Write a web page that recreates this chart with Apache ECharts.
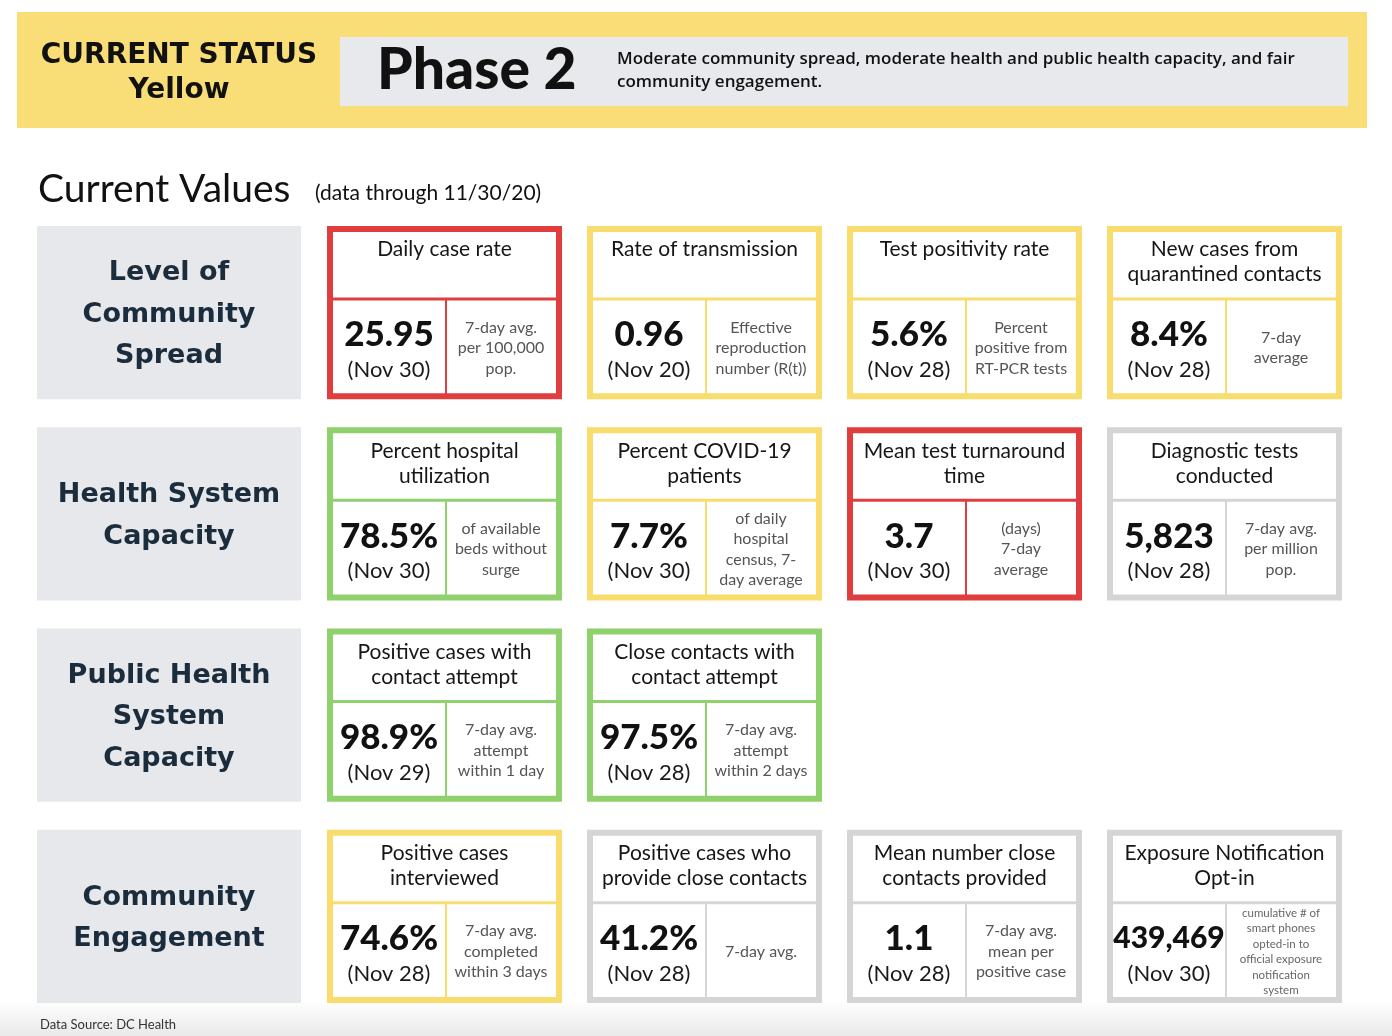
<!DOCTYPE html>
<html>
<head>
<meta charset="utf-8">
<title>Current Values</title>
<script src="https://cdn.jsdelivr.net/npm/echarts@6/dist/echarts.min.js"></script>
<style>
  html, body { margin: 0; padding: 0; background: #fff; }
  #main { width: 1392px; height: 1036px; }
</style>
</head>
<body>
<div id="main"></div>
<script>
// rows of the dashboard
var rowLabels = ['Level of\nCommunity\nSpread', 'Health System\nCapacity', 'Public Health\nSystem\nCapacity', 'Community\nEngagement'];

// one entry per card
var cardRow = [0, 0, 0, 0, 1, 1, 1, 1, 2, 2, 3, 3, 3, 3];
var cardCol = [0, 1, 2, 3, 0, 1, 2, 3, 0, 1, 0, 1, 2, 3];
var cardTitles = [
  'Daily case rate', 'Rate of transmission', 'Test positivity rate', 'New cases from\nquarantined contacts',
  'Percent hospital\nutilization', 'Percent COVID-19\npatients', 'Mean test turnaround\ntime', 'Diagnostic tests\nconducted',
  'Positive cases with\ncontact attempt', 'Close contacts with\ncontact attempt',
  'Positive cases\ninterviewed', 'Positive cases who\nprovide close contacts', 'Mean number close\ncontacts provided', 'Exposure Notification\nOpt-in'
];
var cardValues = ['25.95', '0.96', '5.6%', '8.4%', '78.5%', '7.7%', '3.7', '5,823', '98.9%', '97.5%', '74.6%', '41.2%', '1.1', '439,469'];
var cardDates = ['Nov 30', 'Nov 20', 'Nov 28', 'Nov 28', 'Nov 30', 'Nov 30', 'Nov 30', 'Nov 28', 'Nov 29', 'Nov 28', 'Nov 28', 'Nov 28', 'Nov 28', 'Nov 30'];
var cardNotes = [
  '7-day avg.\nper 100,000\npop.', 'Effective\nreproduction\nnumber (R(t))', 'Percent\npositive from\nRT-PCR tests', '7-day\naverage',
  'of available\nbeds without\nsurge', 'of daily\nhospital\ncensus, 7-\nday average', '(days)\n7-day\naverage', '7-day avg.\nper million\npop.',
  '7-day avg.\nattempt\nwithin 1 day', '7-day avg.\nattempt\nwithin 2 days',
  '7-day avg.\ncompleted\nwithin 3 days', '7-day avg.', '7-day avg.\nmean per\npositive case',
  'cumulative # of\nsmart phones\nopted-in to\nofficial exposure\nnotification\nsystem'
];
var cardStatus = ['red', 'yellow', 'yellow', 'yellow', 'green', 'yellow', 'red', 'gray', 'green', 'green', 'yellow', 'gray', 'gray', 'gray'];

var statusColor = { red: '#e03d3f', yellow: '#f9dc6e', green: '#8fd16c', gray: '#d5d5d5' };

var chart = echarts.init(document.getElementById('main'), null, { renderer: 'canvas' });

function renderCard(params, api) {
  var i = api.value(2);
  var c = api.coord([api.value(0), api.value(1)]);
  var band = api.size([1, 1]);
  var w = band[0] - 25, h = band[1] - 28;
  var L = c[0] - w / 2, T = c[1] - h / 2;
  var color = statusColor[cardStatus[i]];
  var split = L + 119, mid = T + 73;
  var small = cardNotes[i].split('\n').length > 4;
  var valueSize = cardValues[i].length > 6 ? 30 : 35;
  return {
    type: 'group',
    children: [
      { type: 'rect', shape: { x: L + 3, y: T + 3, width: w - 6, height: h - 6 }, style: { fill: '#fff', stroke: color, lineWidth: 6 } },
      { type: 'line', shape: { x1: L + 3, y1: mid, x2: L + w - 3, y2: mid }, style: { stroke: color, lineWidth: 3 } },
      { type: 'line', shape: { x1: split, y1: mid, x2: split, y2: T + h - 3 }, style: { stroke: color, lineWidth: 2 } },
      {
        type: 'text', x: c[0], y: T + 11,
        style: { text: cardTitles[i], fill: '#161616', fontFamily: 'Lato', fontSize: 21, lineHeight: 25, align: 'center', verticalAlign: 'top' }
      },
      {
        type: 'text', x: L + 62, y: T + 109,
        style: { text: cardValues[i], fill: '#111', fontFamily: 'Lato', fontWeight: 900, fontSize: valueSize, align: 'center', verticalAlign: 'middle' }
      },
      {
        type: 'text', x: L + 62, y: T + 144,
        style: { text: '(' + cardDates[i] + ')', fill: '#1a1a1a', fontFamily: 'Lato', fontSize: 22, align: 'center', verticalAlign: 'middle' }
      },
      {
        type: 'text', x: (split + L + w - 6) / 2, y: T + 122,
        style: {
          text: cardNotes[i], fill: small ? '#666' : '#555', fontFamily: 'Lato',
          fontSize: small ? 11.5 : 16, lineHeight: small ? 15.5 : 20.5, align: 'center', verticalAlign: 'middle'
        }
      }
    ]
  };
}

function renderLabel(params, api) {
  var r = api.value(1);
  var c = api.coord([0, r]);
  var band = api.size([1, 1]);
  var w = band[0], h = band[1] - 28;
  return {
    type: 'group',
    children: [
      { type: 'rect', shape: { x: c[0] - w / 2, y: c[1] - h / 2, width: w, height: h }, style: { fill: '#e7e8eb' } },
      {
        type: 'text', x: c[0], y: c[1] + 2,
        style: { text: rowLabels[r], fill: '#1b2c3c', fontFamily: 'DejaVu Sans', fontWeight: 'bold', fontSize: 27, lineHeight: 41.5, align: 'center', verticalAlign: 'middle' }
      }
    ]
  };
}

var cardData = cardTitles.map(function (t, i) { return [cardCol[i], cardRow[i], i]; });
var labelData = rowLabels.map(function (l, r) { return [0, r]; });

var option = {
  backgroundColor: '#fff',
  animation: false,
  grid: [
    { left: 314.5, right: 37.5, top: 212, height: 805 },
    { left: 37, width: 264, top: 212, height: 805 }
  ],
  xAxis: [
    { type: 'category', gridIndex: 0, data: ['1', '2', '3', '4'], show: false },
    { type: 'category', gridIndex: 1, data: ['label'], show: false }
  ],
  yAxis: [
    { type: 'category', gridIndex: 0, data: rowLabels, inverse: true, show: false },
    { type: 'category', gridIndex: 1, data: rowLabels, inverse: true, show: false }
  ],
  graphic: [
    {
      type: 'rect', left: 0, top: 1000, silent: true, z: -10,
      shape: { width: 1392, height: 36 },
      style: { fill: new echarts.graphic.LinearGradient(0, 0, 0, 1, [{ offset: 0, color: '#ffffff' }, { offset: 1, color: '#e9e9e9' }]) }
    },
    { type: 'rect', left: 17, top: 12, silent: true, shape: { width: 1350, height: 116 }, style: { fill: '#f9dd76' } },
    { type: 'rect', left: 340, top: 37, silent: true, shape: { width: 1008, height: 69 }, style: { fill: '#e8e9ed' } },
    {
      type: 'text', x: 179, y: 73, silent: true,
      style: { text: 'CURRENT STATUS\nYellow', fill: '#111', fontFamily: 'DejaVu Sans', fontWeight: 'bold', fontSize: 28, lineHeight: 35, align: 'center', verticalAlign: 'middle' }
    },
    {
      type: 'text', x: 377, y: 71, silent: true,
      style: { text: 'Phase 2', fill: '#111', fontFamily: 'Lato', fontWeight: 900, fontSize: 57, align: 'left', verticalAlign: 'middle' }
    },
    {
      type: 'text', x: 617, y: 71, silent: true,
      style: {
        text: 'Moderate community spread, moderate health and public health capacity, and fair\ncommunity engagement.',
        fill: '#111', fontFamily: 'Open Sans', fontWeight: 600, fontSize: 17, lineHeight: 23, align: 'left', verticalAlign: 'middle'
      }
    },
    {
      type: 'text', x: 38, y: 189, silent: true,
      style: { text: 'Current Values', fill: '#111', fontFamily: 'Lato', fontSize: 39, align: 'left', verticalAlign: 'middle' }
    },
    {
      type: 'text', x: 315, y: 193, silent: true,
      style: { text: '(data through 11/30/20)', fill: '#111', fontFamily: 'Lato', fontSize: 21, align: 'left', verticalAlign: 'middle' }
    },
    {
      type: 'text', x: 40, y: 1025, silent: true,
      style: { text: 'Data Source: DC Health', fill: '#333', fontFamily: 'Lato', fontSize: 13, align: 'left', verticalAlign: 'middle' }
    }
  ],
  series: [
    {
      type: 'custom', name: 'cards', xAxisIndex: 0, yAxisIndex: 0,
      silent: true, renderItem: renderCard, data: cardData
    },
    {
      type: 'custom', name: 'rows', xAxisIndex: 1, yAxisIndex: 1,
      silent: true, renderItem: renderLabel, data: labelData
    }
  ]
};

chart.setOption(option);
</script>
</body>
</html>
